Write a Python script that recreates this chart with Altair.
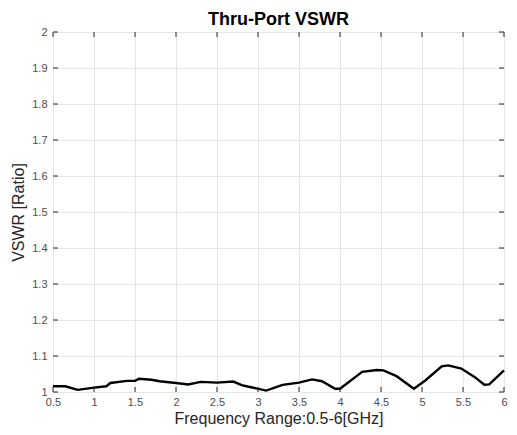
import altair as alt
import pandas as pd

freq = [0.5, 0.65, 0.8, 1.0, 1.15, 1.2, 1.4, 1.5, 1.55, 1.7, 1.8, 2.0, 2.15, 2.3, 2.5, 2.7,
        2.8, 2.9, 3.1, 3.3, 3.5, 3.66, 3.78, 3.94, 4.0, 4.27, 4.45, 4.53, 4.69, 4.9, 5.04,
        5.24, 5.32, 5.48, 5.64, 5.76, 5.82, 6.0]
vswr = [1.016, 1.016, 1.006, 1.012, 1.016, 1.025, 1.031, 1.031, 1.037, 1.034, 1.030, 1.025,
        1.021, 1.028, 1.026, 1.029, 1.019, 1.014, 1.004, 1.020, 1.026, 1.035, 1.030, 1.009,
        1.009, 1.056, 1.061, 1.060, 1.044, 1.009, 1.032, 1.071, 1.074, 1.065, 1.042, 1.020,
        1.021, 1.060]
x_ticks = [0.5, 1, 1.5, 2, 2.5, 3, 3.5, 4, 4.5, 5, 5.5, 6]
y_ticks = [1, 1.1, 1.2, 1.3, 1.4, 1.5, 1.6, 1.7, 1.8, 1.9, 2]

W, H = 451, 360
AX = "#262626"
FONT = "Liberation Sans"

df = pd.DataFrame({"f": freq, "v": vswr})
xt = pd.DataFrame({"f": x_ticks})
yt = pd.DataFrame({"v": y_ticks})

xs = alt.Scale(domain=[0.5, 6], nice=False, zero=False)
ys = alt.Scale(domain=[1, 2], nice=False, zero=False)

xaxis = alt.Axis(values=x_ticks, format="~g", tickSize=0, labelPadding=4,
                 labelFontSize=11, labelColor="#4d4d4d", labelFont=FONT,
                 labelOverlap=False,
                 titleFont=FONT, titleFontSize=16, titleFontWeight="normal",
                 titleColor=AX, titlePadding=3, domain=False,
                 grid=True, gridColor="#e6e6e6", gridWidth=1, labelFlush=False)
yaxis = alt.Axis(values=y_ticks, format="~g", tickSize=0, labelPadding=6,
                 labelFontSize=11, labelColor="#4d4d4d", labelFont=FONT,
                 labelOverlap=False,
                 titleFont=FONT, titleFontSize=16, titleFontWeight="normal",
                 titleColor=AX, titlePadding=5, domain=False,
                 grid=True, gridColor="#e6e6e6", gridWidth=1, labelFlush=False)
XT = "Frequency Range:0.5-6[GHz]"
YT = "VSWR [Ratio]"

line = alt.Chart(df).mark_line(color="black", strokeWidth=2.4).encode(
    x=alt.X("f:Q", scale=xs, title=XT, axis=xaxis),
    y=alt.Y("v:Q", scale=ys, title=YT, axis=yaxis),
)

tick_len = 5
xb = alt.Chart(xt).mark_rule(color=AX, strokeWidth=1).encode(
    x=alt.X("f:Q", scale=xs, title=XT, axis=xaxis), y=alt.value(H), y2=alt.value(H - tick_len))
xtop = alt.Chart(xt).mark_rule(color=AX, strokeWidth=1).encode(
    x=alt.X("f:Q", scale=xs, title=XT, axis=xaxis), y=alt.value(0), y2=alt.value(tick_len))
yl = alt.Chart(yt).mark_rule(color=AX, strokeWidth=1).encode(
    y=alt.Y("v:Q", scale=ys, title=YT, axis=yaxis), x=alt.value(0), x2=alt.value(tick_len))
yr = alt.Chart(yt).mark_rule(color=AX, strokeWidth=1).encode(
    y=alt.Y("v:Q", scale=ys, title=YT, axis=yaxis), x=alt.value(W), x2=alt.value(W - tick_len))

chart = alt.layer(line, xb, xtop, yl, yr).properties(
    width=W, height=H,
    title=alt.Title("Thru-Port VSWR", font=FONT, fontSize=18, fontWeight="bold",
                    color="black", offset=-3),
    padding={"left": 45, "top": 24, "right": 5, "bottom": 35},
    autosize=alt.AutoSizeParams(type="none"),
).configure_view(stroke=AX, strokeWidth=1.2).configure(background="white")

chart.save("out.html", embed_options={"renderer": "svg", "actions": False})
